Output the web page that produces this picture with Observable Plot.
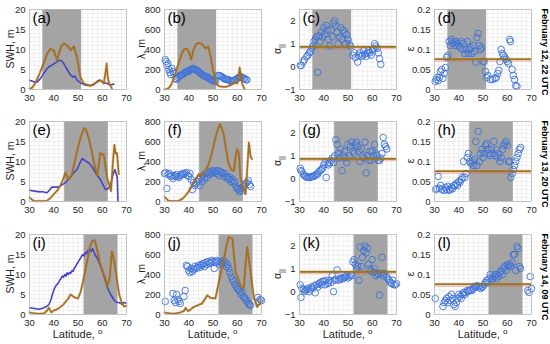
<!DOCTYPE html>
<html><head><meta charset="utf-8">
<script src="https://cdn.jsdelivr.net/npm/d3@7"></script>
<script src="https://cdn.jsdelivr.net/npm/@observablehq/plot@0.6"></script>
<style>
body{margin:0;background:#fff;}
#wrap{position:relative;width:550px;height:344px;overflow:hidden;font-family:"Liberation Sans",Arial,sans-serif;color:#262626;}
.p{position:absolute;}
.yl{position:absolute;transform:translate(-50%,-50%) rotate(-90deg);font-size:10.5px;line-height:1;white-space:nowrap;}
.xl{position:absolute;transform:translate(-50%,-50%);font-size:11px;line-height:1;white-space:nowrap;}
.row{position:absolute;transform:translate(-50%,-50%) rotate(90deg);font-weight:bold;font-size:9px;line-height:1;white-space:nowrap;color:#000;}
sub{font-size:7.5px;}
</style></head>
<body><div id="wrap"></div>
<script>
// ---------- tick labels / categories ----------
const xTicks = [30, 40, 50, 60, 70];
const swhTicks = [0, 5, 10, 15, 20];
const lamTicks = [0, 200, 400, 600, 800];
const alpTicks = [-1, 0, 1, 2];
const epsTicks = [0, 0.05, 0.1, 0.15, 0.2];
const rowLabels = ["February 12, 22 UTC", "February 13, 20 UTC", "February 14, 09 UTC"];
const panelLabels = ["(a)","(b)","(c)","(d)","(e)","(f)","(g)","(h)","(i)","(j)","(k)","(l)"];
const bands = [[35.5, 51.5], [44.5, 62.5], [52.5, 66.5]];
const alphaRef = 0.87;
const epsRef = 0.076;

// ---------- row 1 ----------
const a_blue = [[30,2.3],[31,2.1],[32,1.9],[33,1.8],[34,2.4],[35,3.2],[36,4.2],[37,5.0],[38,5.7],[39,6.0],[40,6.4],[41,6.8],[42,7.2],[43,7.3],[44,6.6],[45,5.6],[46,4.5],[47,3.6],[48,3.1],[48.7,3.4],[49.7,2.3],[51,1.7],[52,1.4],[53,1.1],[55,1.0],[56.5,1.2],[58,2.1],[58.6,2.3],[59.5,2.2],[60,1.9],[61,1.7],[62,1.5],[63.4,1.1],[64.8,1.4]];
const a_brown = [[30,0.25],[31,0.4],[32,1.2],[33.2,2.7],[34.2,4.0],[35.2,5.6],[36.3,7.3],[37.3,9.0],[38.7,10.2],[40,9.8],[41.4,7.3],[42.5,9.8],[43.3,11.0],[44.2,11.5],[45.5,11.0],[47,9.8],[48.3,10.8],[49.7,7.7],[51,3.1],[52.4,1.5],[55.2,0.9],[58,1.9],[59.3,2.3],[60.6,1.5],[61.3,4.0],[61.8,6.5],[62.2,3.5],[62.7,1.8],[64,0.25]];
const b_brown = [[30,0],[31,5],[32,20],[33,60],[34,120],[35,200],[36,280],[37,350],[38,400],[39,410],[40,380],[41,300],[42,400],[43,450],[44,465],[45,460],[46,440],[47,410],[48,430],[49,330],[50,200],[51,80],[52,40],[53,30],[55,25],[57,40],[58,55],[59,70],[60,60],[61,220],[62,60],[63,5]];
const b_dots = [[30.3,300],[30.6,280],[31,240],[31.4,260],[31.8,200],[32.2,170],[32.6,150],[33,210],[33.5,180],[34,160],[34.5,110],[35,100],[35.5,120],[36,130],[36.5,140],[37,145],[37.5,150],[38,160],[38.5,170],[39,175],[39.5,180],[40,185],[40.5,195],[41,200],[41.5,205],[42,210],[42.5,200],[43,195],[43.5,190],[44,180],[44.5,170],[45,160],[45.5,150],[46,140],[46.5,135],[47,130],[47.5,125],[48,120],[48.5,110],[49,100],[49.5,95],[50,90],[50.5,85],[51,80],[52,140],[52.5,140],[53,135],[53.5,130],[54,120],[54.5,110],[55,105],[55.5,100],[56,100],[56.5,95],[57,90],[57.5,80],[58,85],[58.5,90],[59,95],[59.5,100],[60,110],[60.5,120],[61,125],[61.5,130],[62,120],[62.5,110],[63,110],[63.5,100],[64,95]];
const c_dots = [[30.3,0.05],[30.7,0.05],[31.5,0.2],[32,0.3],[33,0.45],[33.5,0.5],[34,0.6],[34.5,0.65],[35,0.8],[35.5,0.9],[36,1.1],[36.5,1.2],[37,1.3],[37.5,-0.25],[38,1.35],[38.5,1.1],[39,1.5],[39.5,1.3],[40,1.7],[40.5,1.4],[41,1.8],[41.5,1.6],[42,1.2],[42.5,0.9],[43,1.6],[43.5,1.3],[44,1.9],[44.5,2.0],[45,1.8],[45.5,1.5],[46,1.0],[46.5,1.3],[47,1.7],[47.5,1.2],[48,1.6],[48.5,1.5],[49,1.0],[49.5,1.4],[50,1.2],[50.5,1.0],[51,0.9],[52,0.5],[52.5,0.6],[53,0.4],[54,0.2],[54.5,0.5],[55,0.6],[55.5,0.45],[56,0.5],[56.5,0.7],[57,0.55],[57.5,0.45],[58,0.6],[58.5,0.7],[59,0.6],[59.5,0.5],[60,0.7],[60.5,0.8],[61,1.0],[61.5,0.9],[62,0.8],[62.5,0.6],[63,0.35],[63.5,0.1]];
const d_dots = [[30.3,0.02],[30.7,0.025],[31,0.03],[31.5,0.022],[32,0.03],[32.5,0.045],[33,0.05],[33.5,0.028],[34,0.04],[34.5,0.055],[35,0.08],[35.5,0.085],[36,0.12],[36.5,0.11],[37,0.125],[37.5,0.115],[38,0.12],[38.5,0.11],[39,0.12],[39.5,0.115],[40,0.11],[40.5,0.105],[41,0.12],[41.5,0.1],[42,0.115],[42.5,0.09],[43,0.1],[43.5,0.12],[44,0.09],[44.5,0.1],[45,0.105],[45.5,0.09],[46,0.11],[46.5,0.095],[47,0.068],[47.5,0.13],[48,0.14],[48.5,0.11],[49,0.1],[49.5,0.105],[50,0.07],[50.5,0.07],[51,0.045],[51.5,0.03],[52,0.035],[53,0.025],[54,0.025],[55,0.028],[55.5,0.03],[56,0.04],[56.5,0.048],[57,0.07],[57.5,0.1],[58,0.09],[58.5,0.085],[59,0.08],[59.5,0.075],[60,0.07],[60.5,0.065],[61,0.125],[61.3,0.12],[62,0.05],[62.5,0.035],[63,0.025],[63.5,0.01],[64,0.008]];

// ---------- row 2 ----------
const e_blue = [[30,2.8],[32,2.6],[34.4,2.4],[35,2.5],[37.2,2.2],[38.2,2.8],[39.2,3.6],[42,3.6],[44.8,4.7],[46.8,6.0],[48,7.0],[49.6,8.0],[50.7,9.5],[51.7,10.7],[53,10.2],[54.4,9.7],[56,8.5],[57.2,7.2],[58,6.5],[59.2,5.5],[60.3,4.2],[61.3,3.0],[62.3,3.2],[63.4,3.9],[64.3,6.5],[65.2,8.0],[66.2,6.0],[66.5,0]];
const e_brown = [[30,1.0],[31.6,0.2],[33,0.1],[35,0.1],[37.2,0.2],[38.5,0.8],[40,1.8],[41.5,2.8],[42.7,3.9],[43.8,5.5],[44.8,7.2],[46.1,5.5],[47.5,6.8],[48.5,9.5],[49.6,12.6],[50.7,15.2],[51.7,17.0],[52.5,18.3],[53.3,18.0],[54.4,15.9],[55.5,13.0],[56.5,10.0],[57.9,6.4],[58.6,9.5],[59.2,12.1],[60.6,11.7],[62,6.0],[63.6,2.6],[64.3,9.0],[65,14.2],[65.5,12.0],[66.1,12.1],[66.8,6.8]];
const f_brown = [[30,47],[31.6,7],[33.5,5],[35.8,7],[37.3,25],[38.6,57],[40,100],[41.3,157],[42.7,215],[44.1,273],[45.5,257],[46.8,306],[48,360],[48.9,423],[50,530],[51,640],[52,720],[53,773],[54.4,673],[55.5,500],[56.5,373],[57.5,320],[58.6,306],[59.3,450],[60,523],[60.7,480],[61.3,240],[62.3,150],[63.4,73],[64.2,350],[64.8,590],[65.5,450],[66.1,423]];
const f_dots = [[30,280],[30.5,290],[31,130],[31.5,270],[32,280],[32.5,250],[33,260],[33.5,230],[34,260],[34.5,250],[35,270],[35.5,250],[36,240],[36.5,260],[37,270],[37.5,280],[38,270],[38.5,280],[39,290],[39.5,260],[40,250],[40.5,280],[41,220],[41.5,120],[42,190],[42.5,160],[43,180],[43.5,200],[44,220],[44.5,160],[45,240],[45.5,200],[46,260],[46.5,230],[47,280],[47.5,240],[48,290],[48.5,270],[49,300],[49.5,280],[50,310],[50.5,290],[51,300],[51.5,280],[52,310],[52.5,260],[53,300],[53.5,290],[54,280],[54.5,250],[55,280],[55.5,240],[56,250],[56.5,220],[57,240],[57.5,200],[58,220],[58.5,180],[59,200],[59.5,150],[60,130],[60.5,120],[61,100],[61.5,130],[62,110],[62.5,150],[63,160],[63.5,180],[64,190],[64.5,210],[65,170],[65.5,150]];
const g_dots = [[30.3,0.45],[30.6,0.35],[31,0.3],[31.5,0.2],[32,0.15],[32.5,0.1],[33,0.05],[33.5,0.08],[34,0.05],[34.5,0.05],[35,0.1],[35.5,0.1],[36,0.1],[36.5,0.15],[37,0.2],[37.5,0.2],[38,0.3],[38.5,0.35],[39,0.4],[39.5,0.45],[40,0.6],[40.5,0.7],[41,0.05],[41.5,0.65],[42,0.6],[42.5,0.7],[43,0.8],[43.5,0.9],[44,0.7],[44.5,1.0],[45,1.7],[45.5,1.5],[46,1.1],[46.5,0.9],[47,1.3],[47.5,0.35],[48,1.0],[48.5,1.2],[49,0.9],[49.5,0.7],[50,1.5],[50.5,1.0],[51,1.4],[51.5,1.6],[52,1.2],[52.5,1.1],[53,1.5],[53.5,1.6],[54,1.4],[54.5,1.2],[55,0.75],[55.5,1.3],[56,1.0],[56.5,0.9],[57,1.6],[57.5,0.25],[58,1.0],[58.5,0.8],[59,1.2],[59.5,0.8],[60,1.2],[60.5,1.0],[61,1.5],[61.5,1.1],[62,1.0],[62.5,0.8],[63,0.8],[63.5,0.9],[64,1.1],[64.5,1.8],[65,1.5],[65.5,1.4],[66,1.3]];
const h_dots = [[30.5,0.03],[31,0.032],[31.5,0.063],[32,0.033],[32.5,0.04],[33,0.03],[34,0.028],[34.5,0.035],[35,0.03],[35.5,0.038],[36,0.028],[36.5,0.03],[37,0.035],[37.5,0.032],[38,0.04],[38.5,0.04],[39,0.045],[39.5,0.04],[40,0.05],[40.5,0.048],[41,0.055],[41.5,0.06],[42,0.1],[42.5,0.06],[43,0.07],[43.5,0.11],[44,0.12],[44.5,0.1],[45,0.095],[45.5,0.1],[46,0.09],[46.5,0.105],[47,0.15],[47.5,0.09],[48,0.175],[48.5,0.1],[49,0.12],[49.5,0.13],[50,0.11],[50.5,0.12],[51,0.14],[51.5,0.145],[52,0.13],[52.5,0.12],[53,0.115],[53.5,0.13],[54,0.12],[54.5,0.15],[55,0.115],[55.5,0.13],[56,0.11],[56.5,0.12],[57,0.1],[57.5,0.11],[58,0.13],[58.5,0.14],[59,0.145],[59.5,0.15],[60,0.14],[60.5,0.1],[61,0.1],[61.5,0.06],[62,0.07],[62.5,0.08],[63,0.09],[63.5,0.1],[64,0.11],[64.5,0.12],[65,0.13],[65.5,0.135]];

// ---------- row 3 ----------
const i_blue = [[30,1.7],[32,1.5],[34,1.3],[35,1.5],[36,1.7],[37,2.0],[38,2.5],[38.5,3.2],[39,4.0],[39.5,5.2],[40,6.0],[40.5,6.8],[41,7.3],[41.5,7.6],[42,8.0],[42.5,8.6],[43,9.0],[43.5,9.6],[44,9.3],[44.5,10.0],[45,9.6],[45.5,10.4],[46,10.0],[46.5,10.5],[47,10.3],[47.5,11.0],[48,10.8],[48.5,11.6],[49,12.0],[49.5,12.6],[50,13.0],[50.5,13.6],[51,14.0],[51.5,14.6],[52,15.0],[52.5,14.6],[53,15.5],[53.5,15.2],[54,16.0],[54.5,15.6],[55,16.2],[55.5,15.8],[56,16.5],[57,15.0],[58,14.0],[59,12.5],[60,11.0],[61,9.0],[62,7.0],[63,5.5],[64,4.5],[65,3.5],[66,3.0],[67,3.0],[68,2.6],[69,3.0],[70,2.8]];
const i_brown = [[30,0.5],[32,0.3],[34,0.2],[36,0.3],[37,0.8],[38,1.7],[39,0.5],[40,1.0],[42,1.5],[44,2.5],[46,4.0],[47,5.0],[48,4.5],[49,4.2],[50,4.0],[51,5.5],[52,8.0],[53,11.0],[54,14.0],[55,17.0],[56,18.5],[57,18.5],[58,16.0],[59,13.0],[60,11.0],[61,9.5],[62,7.0],[63,9.0],[64,15.8],[65,13.0],[66,9.0],[67,5.0],[68,3.0],[69,2.0],[70,2.2]];
const j_brown = [[30,20],[32,12],[34.5,10],[36.5,20],[38,35],[38.7,66],[39.8,33],[42.1,76],[44,95],[45.5,110],[47.6,192],[49,166],[51,160],[52.4,325],[53.5,450],[54.5,558],[55.5,680],[56.5,774],[58,757],[59.3,425],[61.3,292],[62.7,259],[63.4,500],[64.1,674],[65.5,425],[66.9,160],[68.2,76],[69,100],[70,143]];
const j_dots = [[30.3,130],[33.5,210],[34,140],[34.5,120],[35,200],[35.5,150],[36,130],[36.5,110],[38,180],[38.5,240],[39,490],[39.5,480],[40,440],[40.5,420],[41,460],[41.5,430],[42,450],[42.5,480],[43,460],[43.5,470],[44,490],[44.5,470],[45,500],[45.5,490],[46,510],[46.5,480],[47,520],[47.5,500],[48,530],[48.5,510],[49,520],[49.5,540],[50,530],[50.5,460],[51,520],[51.5,540],[52,530],[52.5,500],[53,520],[53.5,530],[54,510],[54.5,540],[55,520],[55.5,480],[56,500],[56.5,460],[57,420],[57.5,380],[58,350],[58.5,330],[59,300],[59.5,280],[60,260],[60.5,250],[61,230],[61.5,200],[62,220],[62.5,180],[63,170],[63.5,150],[64,130],[64.5,110],[65,100],[65.5,90],[68.5,170],[69,130],[69.5,150],[70,140]];
const k_dots = [[30.3,0.3],[30.6,-0.25],[31,0.15],[31.5,0.1],[32,0.0],[32.5,0.05],[33,0.1],[33.5,0.15],[34,0.0],[34.5,0.1],[35,0.2],[35.5,0.15],[36,0.25],[36.5,-0.05],[37,0.3],[37.5,0.2],[38,0.35],[38.5,0.4],[39,0.3],[39.5,0.45],[40,0.45],[40.5,0.3],[41,0.5],[41.5,0.35],[42,0.4],[42.5,0.5],[43,0.4],[43.5,0.7],[44,0.0],[44.5,0.5],[45,0.55],[45.5,0.95],[46,0.5],[46.5,0.55],[47,0.6],[47.5,0.55],[48,0.6],[48.5,0.6],[49,0.65],[49.5,0.7],[50,0.6],[50.5,0.65],[51,0.75],[51.5,0.7],[52,1.3],[52.5,1.4],[53,1.2],[53.5,1.0],[54,1.1],[54.5,0.5],[55,1.95],[55.5,1.1],[56,1.5],[56.5,1.8],[57,2.0],[57.5,1.7],[58,1.9],[58.5,1.2],[59,1.0],[59.5,0.9],[60,1.4],[60.5,0.85],[61,1.0],[61.5,0.7],[62,0.8],[62.5,0.75],[63,-0.15],[63.5,0.8],[64,1.5],[64.5,0.7],[65,0.8],[66,0.65],[66.5,0.55],[67,0.5],[67.5,0.4],[68,0.35],[68.5,0.5],[69,0.3],[69.5,0.3],[70,0.35]];
const l_dots = [[30.3,0.04],[33.5,0.02],[34,0.03],[34.5,0.035],[35,0.04],[35.5,0.03],[36,0.045],[36.5,0.035],[37,0.05],[37.5,0.04],[38,0.025],[38.5,0.02],[39,0.03],[39.5,0.04],[40,0.05],[40.5,0.045],[41,0.04],[41.5,0.05],[42,0.055],[42.5,0.05],[43,0.055],[43.5,0.06],[44,0.058],[44.5,0.06],[45,0.062],[45.5,0.06],[46,0.065],[46.5,0.07],[47,0.068],[47.5,0.072],[48,0.07],[48.5,0.07],[49,0.065],[49.5,0.068],[50,0.07],[50.5,0.075],[51,0.08],[51.5,0.085],[52,0.08],[52.5,0.09],[53,0.1],[53.5,0.085],[54,0.09],[54.5,0.095],[55,0.1],[55.5,0.09],[56,0.1],[56.5,0.095],[57,0.105],[57.5,0.11],[58,0.1],[58.5,0.115],[59,0.12],[59.5,0.11],[60,0.125],[60.5,0.12],[61,0.125],[61.5,0.12],[62,0.13],[62.5,0.15],[63,0.15],[63.5,0.11],[64,0.17],[64.5,0.165],[65,0.12],[65.5,0.115],[68.5,0.06],[69,0.055],[69.5,0.095],[70,0.065]];

// ---------- layout & style ----------
const colX = [29, 164, 299, 434];
const rowY = [9, 121, 234];
const PW = 97, PH = 80, ML = 32, MR = 6, MT = 4, MB = 20;
const BLUE = "#4444c4", BROWN = "#9c741a", RED = "#e0442c", DOT = "#3f74d8";
const wrap = document.getElementById("wrap");

const yConf = [
  {domain:[0,20], ticks: swhTicks, minor:1, fmt: d3.format("d")},
  {domain:[0,800], ticks: lamTicks, minor:40, fmt: d3.format("d")},
  {domain:[-1,2.5], ticks: alpTicks, minor:0.2, fmt: d3.format("d")},
  {domain:[0,0.2], ticks: epsTicks, minor:0.01, fmt: d3.format("~g")}
];

const panelsData = [
  {lines:[a_blue], brown:a_brown}, {brown:b_brown, dots:b_dots}, {dots:c_dots, ref:alphaRef}, {dots:d_dots, ref:epsRef},
  {lines:[e_blue], brown:e_brown}, {brown:f_brown, dots:f_dots}, {dots:g_dots, ref:alphaRef}, {dots:h_dots, ref:epsRef},
  {lines:[i_blue], brown:i_brown}, {brown:j_brown, dots:j_dots}, {dots:k_dots, ref:alphaRef}, {dots:l_dots, ref:epsRef}
];

function panel(idx) {
  const row = Math.floor(idx / 4), col = idx % 4;
  const yc = yConf[col];
  const pd = panelsData[idx];
  const xGrid = d3.range(30, 70.001, 2);
  const yGrid = d3.range(yc.domain[0], yc.domain[1] + 1e-9, yc.minor);
  const band = bands[row];
  const marks = [
    Plot.ruleX(xGrid, {stroke: "#e6e6e6", strokeWidth: 0.6}),
    Plot.ruleY(yGrid, {stroke: "#e6e6e6", strokeWidth: 0.6}),
    Plot.rect([band], {x1: d => d[0], x2: d => d[1], y1: () => yc.domain[0], y2: () => yc.domain[1], fill: "#a4a4a4"})
  ];
  if (pd.ref !== undefined) {
    marks.push(Plot.ruleY([pd.ref], {stroke: RED, strokeWidth: 2.6, strokeOpacity: 0.25, dy: 1.5}));
  }
  if (pd.dots) {
    marks.push(Plot.dot(pd.dots, {x: d => d[0], y: d => d[1], r: 3.3, stroke: DOT, strokeWidth: 0.9, fill: "none"}));
  }
  if (pd.lines) for (const L of pd.lines)
    marks.push(Plot.line(L, {x: d => d[0], y: d => d[1], stroke: BLUE, strokeWidth: 1.6}));
  if (pd.brown) {
    marks.push(Plot.line(pd.brown, {x: d => d[0], y: d => d[1], stroke: RED, strokeWidth: 2.6, strokeOpacity: 0.3}));
    marks.push(Plot.line(pd.brown, {x: d => d[0], y: d => d[1], stroke: BROWN, strokeWidth: 1.6}));
  }
  if (pd.ref !== undefined) {
    marks.push(Plot.ruleY([pd.ref], {stroke: BROWN, strokeWidth: 1.8}));
  }
  marks.push(Plot.frame({stroke: "#b8b8b8", strokeWidth: 0.8}));
  marks.push(Plot.axisX({ticks: xTicks, tickSize: 0, tickPadding: 5, fontSize: 9.5, label: null, tickFormat: d3.format("d")}));
  marks.push(Plot.axisY({ticks: yc.ticks, tickSize: 0, tickPadding: 4, fontSize: 9.5, label: null, tickFormat: yc.fmt}));
  marks.push(Plot.text([panelLabels[idx]], {text: d => d, frameAnchor: "top-left", dx: 3, dy: 3, fontSize: 15, fill: "#000", lineAnchor: "top", textAnchor: "start"}));
  const chart = Plot.plot({
    width: ML + PW + MR, height: MT + PH + MB,
    marginLeft: ML, marginRight: MR, marginTop: MT, marginBottom: MB,
    x: {domain: [30, 70]},
    y: {domain: yc.domain},
    style: {fontFamily: '"Liberation Sans", Arial, sans-serif', fontSize: "9.5px", color: "#262626", background: "transparent", overflow: "visible"},
    marks
  });
  chart.classList.add("p");
  chart.style.left = (colX[col] - ML) + "px";
  chart.style.top = (rowY[row] - MT) + "px";
  chart.style.position = "absolute";
  wrap.appendChild(chart);
}
for (let i = 0; i < 12; i++) panel(i);

// y labels
const yLabelHtml = ["SWH, m", "λ, m", "α<sub>||</sub>", "ε"];
const yLabelX = [10, 141, 279, 410];
for (let r = 0; r < 3; r++) for (let c = 0; c < 4; c++) {
  const d = document.createElement("div");
  d.className = "yl";
  d.innerHTML = yLabelHtml[c];
  d.style.left = yLabelX[c] + "px";
  d.style.top = (rowY[r] + PH / 2) + "px";
  wrap.appendChild(d);
}
// x labels (bottom row)
for (let c = 0; c < 4; c++) {
  const d = document.createElement("div");
  d.className = "xl";
  d.innerHTML = "Latitude, <sup style='font-size:8px'>o</sup>";
  d.style.left = (colX[c] + PW / 2) + "px";
  d.style.top = "334px";
  wrap.appendChild(d);
}
// row labels
for (let r = 0; r < 3; r++) {
  const d = document.createElement("div");
  d.className = "row";
  d.textContent = rowLabels[r];
  d.style.left = "544px";
  d.style.top = (rowY[r] + PH / 2 + 3) + "px";
  wrap.appendChild(d);
}
</script>
</body></html>
